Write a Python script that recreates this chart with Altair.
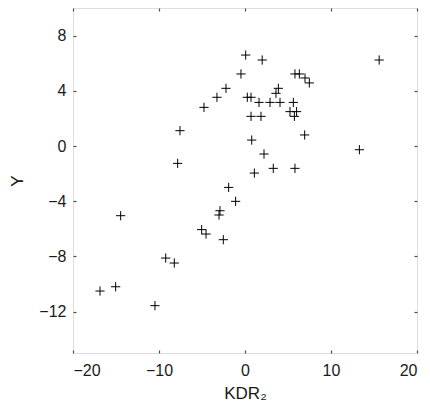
import altair as alt
import pandas as pd

kdr2 = [0.08, 2.0, 15.6, -0.47, 5.81, 6.32, 6.98, 7.48, -2.21, 3.88, 3.6, -3.26,
        0.27, 0.70, 1.63, 2.91, 4.07, 5.62, -4.77, 5.23, 6.0, 5.74, 0.70, 1.86,
        -7.56, 6.94, 0.78, 13.3, 2.21, -7.83, 3.29, 5.81, 1.09, -1.90, -1.09,
        -14.46, -2.91, -3.02, -5.04, -4.53, -2.52, -9.22, -8.22, -15.04, -16.86, -10.47]
yvals = [6.59, 6.23, 6.23, 5.22, 5.22, 5.22, 4.93, 4.57, 4.18, 4.18, 3.82, 3.53,
         3.53, 3.53, 3.16, 3.16, 3.16, 3.16, 2.80, 2.49, 2.49, 2.15, 2.15, 2.15,
         1.11, 0.80, 0.43, -0.27, -0.58, -1.26, -1.62, -1.62, -1.96, -3.0, -4.01,
         -5.05, -4.69, -5.0, -6.06, -6.38, -6.79, -8.12, -8.48, -10.2, -10.51, -11.57]

x_ticks = [-20, -10, 0, 10, 20]
y_ticks = [-12, -8, -4, 0, 4, 8]

df = pd.DataFrame({"x": kdr2, "y": yvals})

FONT = "Liberation Sans"
INK = "#1a1a1a"
FRAME = "#4d4d4d"
xs = alt.Scale(domain=[-20, 20], nice=False, zero=False)
ys = alt.Scale(domain=[-15, 10], nice=False, zero=False)

plus = "M-1,0L1,0M0,-1L0,1"

base = alt.Chart(df)

main = base.mark_point(shape=plus, size=85, filled=False, color="black",
                       strokeWidth=1, opacity=1).encode(
    x=alt.X("x:Q", scale=xs,
            axis=alt.Axis(orient="bottom", values=x_ticks, domain=False, grid=False,
                          tickSize=3, offset=-3, tickColor=FRAME, tickWidth=1.2,
                          labelPadding=9,
                          labelFontSize=16, labelFont=FONT, labelColor=INK,
                          title="KDR₂", titleFont=FONT, titleFontSize=17,
                          titleFontWeight="normal", titleColor=INK, titlePadding=7)),
    y=alt.Y("y:Q", scale=ys,
            axis=alt.Axis(orient="left", values=y_ticks, domain=False, grid=False,
                          tickSize=3, offset=-3, tickColor=FRAME, tickWidth=1.2,
                          labelPadding=7,
                          labelFontSize=16, labelFont=FONT, labelColor=INK,
                          title="Y", titleFont=FONT, titleFontSize=17,
                          titleFontWeight="normal", titleColor=INK, titlePadding=12)),
)

mirror = base.mark_point(opacity=0).encode(
    x=alt.X("x:Q", scale=xs,
            axis=alt.Axis(orient="top", values=x_ticks, domain=False, grid=False,
                          tickSize=3, offset=-3, tickColor=FRAME, tickWidth=1.2,
                          labels=False, title=None)),
    y=alt.Y("y:Q", scale=ys,
            axis=alt.Axis(orient="right", values=y_ticks, domain=False, grid=False,
                          tickSize=3, offset=-3, tickColor=FRAME, tickWidth=1.2,
                          labels=False, title=None)),
)

chart = alt.layer(main, mirror).resolve_axis(x="independent", y="independent").properties(
    width=344, height=345,
    autosize=alt.AutoSizeParams(type="none"),
    padding={"left": 65, "top": 0, "right": 5, "bottom": 50},
).configure_view(stroke=FRAME, strokeWidth=1.6).configure(background="white")

chart.save("out.html", embed_options={"renderer": "svg", "actions": False})
